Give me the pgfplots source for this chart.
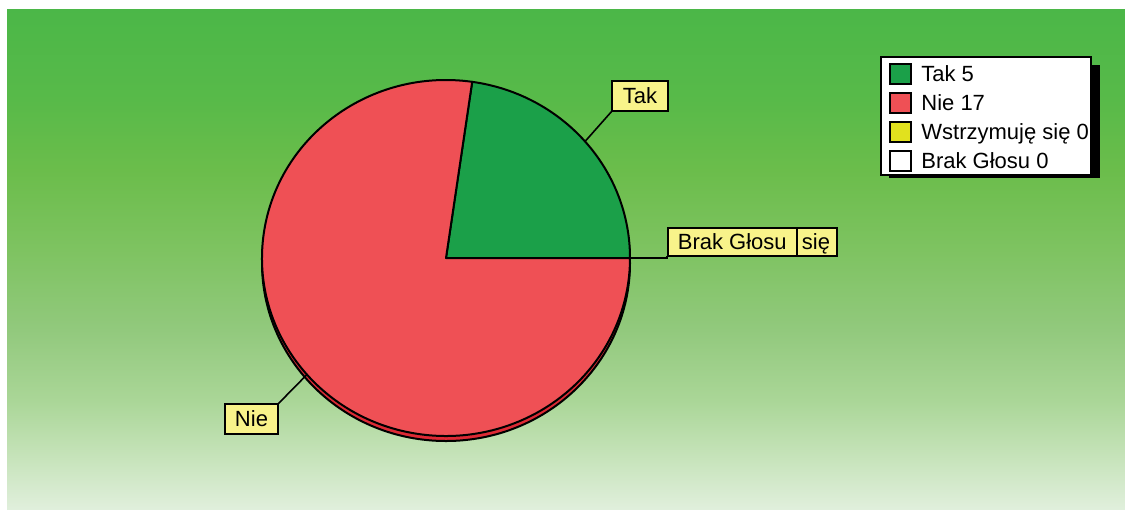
\documentclass[border=0pt]{standalone}
\usepackage{pgfplots}
\pgfplotsset{compat=1.18}
\usepackage{pgfplotstable}
\usepackage{fontspec}
\setmainfont{Liberation Sans}

\definecolor{takc}{HTML}{1BA049}
\definecolor{niec}{HTML}{EF5055}
\definecolor{nierim}{HTML}{DD2A35}
\definecolor{wstc}{HTML}{E1E11E}
\definecolor{labfill}{HTML}{F8F38A}
\definecolor{c0}{HTML}{E0EFDC}
\definecolor{c1}{HTML}{C8E4BC}
\definecolor{c2}{HTML}{AAD697}
\definecolor{c3}{HTML}{92C97D}
\definecolor{c4}{HTML}{7EC361}
\definecolor{c5}{HTML}{6BBD4B}
\definecolor{c6}{HTML}{58BA49}
\definecolor{c7}{HTML}{4BB748}

\pgfdeclareverticalshading{bgshade}{100bp}{color(0bp)=(c0); color(25bp)=(c0); color(29.9bp)=(c1); color(35.9bp)=(c2); color(42.9bp)=(c3); color(50.9bp)=(c4); color(58.9bp)=(c5); color(65.9bp)=(c6); color(75bp)=(c7); color(100bp)=(c7)}

\pgfplotstableread{
label value
Tak 5
Nie 17
Wstrzymuje 0
Brak 0
}\votes
\pgfplotstablegetelem{0}{value}\of\votes \let\vTak\pgfplotsretval
\pgfplotstablegetelem{1}{value}\of\votes \let\vNie\pgfplotsretval
\pgfplotstablegetelem{2}{value}\of\votes \let\vWst\pgfplotsretval
\pgfplotstablegetelem{3}{value}\of\votes \let\vBrak\pgfplotsretval
\pgfmathsetmacro\vTot{\vTak+\vNie+\vWst+\vBrak}
\pgfmathsetmacro\aTak{360*\vTak/\vTot}
\pgfmathsetmacro\aNie{\aTak+360*\vNie/\vTot}
\pgfmathsetmacro\mTak{\aTak/2}
\pgfmathsetmacro\mNie{(\aTak+\aNie)/2}

\begin{document}
\begin{tikzpicture}[
  lab/.style={draw=black, line width=0.9pt, fill=labfill, inner xsep=5pt, inner ysep=0pt,
    text height=7.9pt, text depth=0pt, font=\fontsize{11}{13}\selectfont},
  leg/.style={anchor=west, inner sep=0pt, text height=7.9pt, text depth=0pt, font=\fontsize{11}{13}\selectfont}]
\begin{axis}[
  scale only axis, width=562.5pt, height=255.5pt,
  xmin=0, xmax=1125, ymin=0, ymax=511, y dir=reverse,
  hide axis, clip=false,
]
% background
\fill[white] (axis cs:0,0) rectangle (axis cs:1125,511);
\shade[shading=bgshade] (axis cs:7,9) rectangle (axis cs:1125,509);
% pie 3D rim
\filldraw[fill=nierim, draw=black, line width=1pt] (axis cs:446,263) ellipse[x radius=92pt, y radius=89pt];
% slices
\filldraw[fill=takc, draw=black, line width=1pt, line join=round] (axis cs:446,258) -- ++(0:92pt and 89pt)
   arc[start angle=0, end angle=\aTak, x radius=92pt, y radius=89pt] -- cycle;
\filldraw[fill=niec, draw=black, line width=1pt, line join=round] (axis cs:446,258) -- ++(\aTak:92pt and 89pt)
   arc[start angle=\aTak, end angle=\aNie, x radius=92pt, y radius=89pt] -- cycle;
% leader lines
\draw[black, line width=0.8pt] ([shift={(\mTak:92pt and 89pt)}]axis cs:446,258) -- (axis cs:612,111);
\draw[black, line width=0.8pt] ([shift={(\mNie:92pt and 89pt)}]axis cs:446,258) -- (axis cs:278,404);
\draw[black, line width=0.8pt] (axis cs:630,258) -- (axis cs:667,258) -- (axis cs:667,256);
% labels
\node[lab, minimum width=28pt, minimum height=15pt] at (axis cs:640,96) {Tak};
\node[lab, minimum width=26.5pt, minimum height=15pt] at (axis cs:251.5,419) {Nie};
\node[lab, minimum height=14pt, minimum width=21pt, inner xsep=0pt] at (axis cs:816,242) {się};
\node[lab, minimum height=14pt, minimum width=64pt, anchor=west] at (axis cs:667,242) {Brak Głosu};
% legend
\fill[black] (axis cs:889,65) rectangle (axis cs:1100,178);
\filldraw[fill=white, draw=black, line width=0.9pt] (axis cs:881,57) rectangle (axis cs:1091,175);
\filldraw[fill=takc, draw=black, line width=1pt] (axis cs:890,64) rectangle (axis cs:911,84);
\filldraw[fill=niec, draw=black, line width=1pt] (axis cs:890,93) rectangle (axis cs:911,113);
\filldraw[fill=wstc, draw=black, line width=1pt] (axis cs:890,122) rectangle (axis cs:911,142);
\filldraw[fill=white, draw=black, line width=1pt] (axis cs:890,151) rectangle (axis cs:911,171);
\node[leg] at (axis cs:921,74) {Tak 5};
\node[leg] at (axis cs:921,103) {Nie 17};
\node[leg] at (axis cs:921,132) {Wstrzymuję się 0};
\node[leg] at (axis cs:921,161) {Brak Głosu 0};
\end{axis}
\pgfresetboundingbox
\path (0,0) rectangle (562.5pt,255.5pt);
\end{tikzpicture}
\end{document}
